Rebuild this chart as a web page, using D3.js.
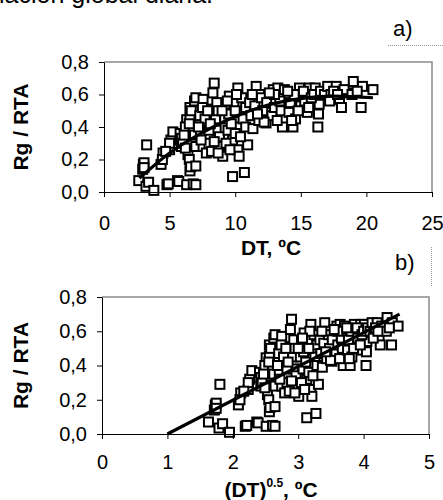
<!DOCTYPE html>
<html>
<head>
<meta charset="utf-8">
<script src="https://cdn.jsdelivr.net/npm/d3@7"></script>
<style>
  body { margin: 0; background: #fff; }
  svg { font-family: "Liberation Sans", Arial, sans-serif; }
  .tick text { font-size: 20px; fill: #000; }
</style>
</head>
<body>
<div id="chart"></div>
<script>
// DT (ºC) and Rg/RTA for each day, read off panel a)
var dt = [
  2.65, 2.95, 3.0, 3.05, 3.05, 3.25, 3.2, 3.4, 3.8, 4.35, 4.5, 4.45, 4.8, 4.9, 5.0, 5.1, 5.25, 5.0, 4.7,
  5.6, 5.7, 5.8, 5.9, 5.9, 6.0, 6.3, 6.4, 6.5, 6.55, 6.6, 6.3, 6.55, 6.55, 6.65, 6.7, 6.8, 6.9, 7.0, 7.0, 7.0,
  6.2, 6.1, 6.8, 6.5, 6.9, 7.0, 6.2,
  7.3, 7.35, 7.55, 7.55, 7.8, 7.9, 8.2, 8.3, 8.4, 8.55, 8.8, 9.05, 8.9, 7.5, 7.7, 8.0, 8.0, 8.2, 8.5, 8.6,
  8.7, 7.2, 7.4, 8.1, 8.8, 7.9, 8.4, 8.7,
  9.3, 9.55, 9.45, 9.8, 9.8, 10.2, 10.3, 10.3, 10.3, 10.2, 10.7, 10.95, 9.2, 9.5, 9.7, 9.9, 10.0, 10.5,
  10.6, 10.8, 9.3, 9.6, 10.4, 9.0, 10.0, 10.1, 10.8, 9.4,
  11.1, 11.35, 11.6, 11.85, 12.35, 12.5, 12.9, 13.25, 12.75, 13.6, 13.75, 11.2, 11.5, 11.8, 12.0, 12.1,
  12.4, 12.8, 13.0, 13.2, 13.4, 13.0, 11.3, 12.2, 13.5, 11.7, 12.6,
  14.1, 14.4, 14.9, 15.0, 15.0, 15.5, 15.65, 16.3, 16.1, 16.35, 16.4, 14.2, 14.5, 14.6, 14.8, 15.2, 15.3,
  15.8, 16.0, 16.5, 14.0, 14.3, 15.6, 16.8,
  17.05, 17.7, 17.95, 18.1, 18.6, 19.0, 19.6, 19.7, 20.5, 17.3, 17.5, 18.3, 18.9, 19.3, 17.2, 17.8
];
var ratio = [
  0.07, 0.14, 0.17, 0.18, 0.15, 0.29, 0.035, 0.06, 0.01, 0.17, 0.24, 0.2, 0.045, 0.05, 0.26, 0.32, 0.37, 0.3, 0.25,
  0.07, 0.065, 0.36, 0.28, 0.33, 0.3, 0.045, 0.23, 0.2, 0.13, 0.155, 0.445, 0.455, 0.52, 0.50, 0.3, 0.05, 0.56, 0.045, 0.16, 0.58,
  0.4, 0.35, 0.4, 0.42, 0.35, 0.28, 0.27,
  0.47, 0.36, 0.28, 0.57, 0.24, 0.435, 0.51, 0.61, 0.67, 0.38, 0.28, 0.22, 0.455, 0.52, 0.45, 0.38, 0.3, 0.25, 0.45, 0.55,
  0.5, 0.4, 0.32, 0.42, 0.34, 0.5, 0.31, 0.24,
  0.54, 0.59, 0.38, 0.095, 0.32, 0.26, 0.22, 0.40, 0.49, 0.64, 0.12, 0.29, 0.45, 0.48, 0.42, 0.55, 0.36, 0.58,
  0.45, 0.52, 0.3, 0.26, 0.34, 0.5, 0.5, 0.6, 0.4, 0.56,
  0.55, 0.39, 0.65, 0.60, 0.425, 0.49, 0.63, 0.64, 0.57, 0.40, 0.63, 0.47, 0.53, 0.44, 0.58, 0.5,
  0.55, 0.47, 0.52, 0.44, 0.56, 0.6, 0.6, 0.43, 0.5, 0.48, 0.61,
  0.49, 0.40, 0.64, 0.59, 0.53, 0.49, 0.64, 0.40, 0.64, 0.48, 0.54, 0.55, 0.6, 0.45, 0.5, 0.62, 0.56,
  0.58, 0.6, 0.62, 0.62, 0.44, 0.52, 0.6,
  0.65, 0.65, 0.57, 0.52, 0.61, 0.68, 0.52, 0.65, 0.63, 0.6, 0.62, 0.63, 0.6, 0.62, 0.56, 0.6
];

// trend lines
var trendA = [[2.7, 0.085], [5, 0.24], [7.5, 0.365], [10, 0.465], [12.5, 0.535], [15, 0.575], [17.5, 0.59], [20.5, 0.58]];
var trendB = [[1.0, 0.0], [4.55, 0.70]];

var yTicks = [0, 0.2, 0.4, 0.6, 0.8];
var xTicksA = [0, 5, 10, 15, 20, 25];
var xTicksB = [0, 1, 2, 3, 4, 5];

var svgWidth = 443;
var svgHeight = 500;

var svg = d3.select("#chart")
  .append("svg")
  .attr("width", svgWidth)
  .attr("height", svgHeight);

var fmt = function(d) { return d3.format(".1f")(d).replace(".", ","); };

// page text cut off at the top
svg.append("text")
  .attr("x", -1).attr("y", 3)
  .attr("font-size", "25px")
  .text("lación global diaria.");

function panel(opts) {
  var x = d3.scaleLinear().domain(opts.xDomain).range([opts.left, opts.right]);
  var y = d3.scaleLinear().domain([0, 0.8]).range([opts.bottom, opts.top]);

  // plot area frame (top / right)
  svg.append("path")
    .attr("d", "M" + opts.left + "," + opts.top + "H" + opts.right + "V" + opts.bottom)
    .attr("fill", "none")
    .attr("stroke", "#8a8a8a")
    .attr("stroke-width", 1.5);

  var pts = dt.map(function(d, i) { return { x: opts.xValue(d), y: ratio[i] }; });

  svg.append("g").selectAll("rect")
    .data(pts)
    .enter()
    .append("rect")
    .attr("x", function(d) { return x(d.x) - 4.5; })
    .attr("y", function(d) { return y(d.y) - 4.5; })
    .attr("width", 9)
    .attr("height", 9)
    .attr("fill", "#fff")
    .attr("stroke", "#000")
    .attr("stroke-width", 2);

  var line = d3.line()
    .x(function(d) { return x(d[0]); })
    .y(function(d) { return y(d[1]); })
    .curve(d3.curveMonotoneX);

  svg.append("path")
    .datum(opts.trend)
    .attr("d", line)
    .attr("fill", "none")
    .attr("stroke", "#000")
    .attr("stroke-width", 3.2);

  svg.append("g")
    .attr("transform", "translate(" + opts.left + ",0)")
    .call(d3.axisLeft(y).tickValues(yTicks).tickFormat(fmt).tickSize(5).tickSizeOuter(0).tickPadding(10));

  svg.append("g")
    .attr("transform", "translate(0," + opts.bottom + ")")
    .call(d3.axisBottom(x).tickValues(opts.xTicks).tickFormat(d3.format("d")).tickSize(5).tickSizeOuter(0).tickPadding(opts.xPad));

  svg.append("text")
    .attr("transform", "translate(28," + ((opts.top + opts.bottom) / 2) + ") rotate(-90)")
    .attr("text-anchor", "middle")
    .attr("font-size", "21px")
    .attr("font-weight", "bold")
    .text("Rg / RTA");
}

panel({ xDomain: [0, 25], left: 104, right: 432, top: 62, bottom: 192,
  xValue: function(d) { return d; }, trend: trendA, xTicks: xTicksA, xPad: 19 });

panel({ xDomain: [0, 5], left: 102, right: 429, top: 297, bottom: 434,
  xValue: function(d) { return Math.sqrt(d); }, trend: trendB, xTicks: xTicksB, xPad: 16 });

svg.selectAll(".domain").attr("stroke", "#000");

// axis titles
svg.append("text")
  .attr("x", 271).attr("y", 255)
  .attr("text-anchor", "middle")
  .attr("font-size", "21px").attr("font-weight", "bold")
  .text("DT, ºC");

var tb = svg.append("text")
  .attr("x", 271).attr("y", 497)
  .attr("text-anchor", "middle")
  .attr("font-size", "21px").attr("font-weight", "bold");
tb.append("tspan").text("(DT)");
tb.append("tspan").attr("font-size", "12px").attr("dy", -10).text("0.5");
tb.append("tspan").attr("dy", 10).text(", ºC");

// panel letters
svg.append("text").attr("x", 393).attr("y", 36).attr("font-size", "22px").text("a)");
svg.append("line")
  .attr("x1", 388).attr("x2", 443).attr("y1", 45.5).attr("y2", 45.5)
  .attr("stroke", "#999").attr("stroke-dasharray", "1,1");

svg.append("text").attr("x", 395).attr("y", 270).attr("font-size", "22px").text("b)");
svg.append("line")
  .attr("x1", 431.5).attr("x2", 431.5).attr("y1", 247).attr("y2", 286)
  .attr("stroke", "#999").attr("stroke-dasharray", "1,1");
</script>
</body>
</html>
